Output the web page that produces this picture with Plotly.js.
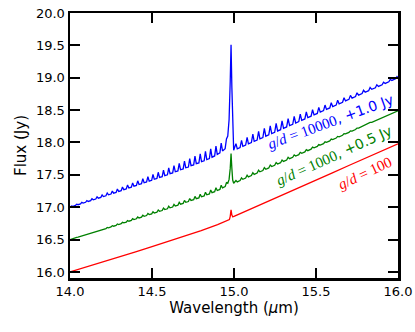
<!DOCTYPE html>
<html>
<head>
<meta charset="utf-8">
<script src="https://cdn.plot.ly/plotly-3.0.1.min.js"></script>
<style>
  html, body { margin: 0; padding: 0; background: #fff; }
  #fluxChart { width: 415px; height: 332px; }
</style>
</head>
<body>
<div id="fluxChart"></div>
<script>
// wavelength grid (micron) shared by the g/d=10000 and g/d=1000 spectra
const wavelength = [
  14.000,
  14.010,14.018,14.033, 14.041,14.049,14.064, 14.072,14.080,14.095, 14.103,14.111,14.126,
  14.134,14.142,14.157, 14.165,14.173,14.188, 14.196,14.204,14.219, 14.227,14.235,14.250,
  14.258,14.266,14.281, 14.289,14.297,14.312, 14.320,14.328,14.343, 14.351,14.359,14.374,
  14.382,14.390,14.405, 14.413,14.421,14.436, 14.444,14.452,14.467, 14.475,14.483,14.498,
  14.506,14.514,14.530, 14.538,14.546,14.562, 14.570,14.578,14.594, 14.602,14.610,14.626,
  14.634,14.642,14.658, 14.666,14.674,14.690, 14.698,14.706,14.722, 14.730,14.738,14.754,
  14.762,14.770,14.786, 14.794,14.802,14.818, 14.826,14.834,14.850, 14.858,14.866,14.882,
  14.890,14.898,14.914, 14.922,14.930,14.946,
  14.954,14.962,14.970,14.977,14.982,14.987,14.992,14.998,
  15.012,15.020,15.037, 15.046,15.054,15.071, 15.080,15.088,15.106, 15.115,15.123,15.141,
  15.150,15.158,15.176, 15.185,15.194,15.212, 15.221,15.230,15.248, 15.257,15.266,15.284,
  15.293,15.302,15.321, 15.330,15.339,15.358, 15.367,15.376,15.395, 15.404,15.413,15.432,
  15.441,15.450,15.470, 15.479,15.488,15.508, 15.517,15.526,15.546, 15.555,15.564,15.584,
  15.593,15.602,15.623, 15.632,15.641,15.662, 15.671,15.680,15.701, 15.710,15.720,15.741,
  15.750,15.760,15.781, 15.790,15.800,15.821, 15.830,15.840,15.862, 15.871,15.881,15.903,
  15.912,15.922,15.944, 15.953,15.963,15.985,
  15.994,16.000
];

// g/d=10000 spectrum, already offset by +1.0 Jy
const flux10000 = [
  17.000,
  17.020,17.015,17.027, 17.047,17.039,17.051, 17.075,17.064,17.076, 17.103,17.089,17.101,
  17.132,17.115,17.127, 17.161,17.140,17.152, 17.189,17.165,17.177, 17.220,17.192,17.204,
  17.250,17.217,17.229, 17.281,17.244,17.256, 17.313,17.271,17.283, 17.345,17.298,17.310,
  17.376,17.325,17.337, 17.408,17.351,17.363, 17.441,17.378,17.390, 17.473,17.404,17.416,
  17.507,17.432,17.444, 17.540,17.460,17.472, 17.574,17.489,17.501, 17.607,17.518,17.530,
  17.642,17.548,17.560, 17.678,17.579,17.591, 17.713,17.609,17.621, 17.751,17.641,17.653,
  17.788,17.672,17.684, 17.826,17.703,17.717, 17.863,17.737,17.752, 17.901,17.773,17.792,
  17.945,17.815,17.840, 17.992,17.870,17.905,
  18.054,18.100,18.350,18.950,19.510,18.850,18.200,17.880,
  17.983,17.902,17.921, 18.032,17.941,17.960, 18.080,17.979,17.999, 18.129,18.018,18.038,
  18.173,18.057,18.077, 18.217,18.097,18.117, 18.258,18.138,18.158, 18.296,18.178,18.198,
  18.333,18.218,18.240, 18.370,18.260,18.281, 18.404,18.301,18.322, 18.437,18.343,18.364,
  18.471,18.384,18.406, 18.506,18.427,18.449, 18.542,18.469,18.492, 18.578,18.512,18.534,
  18.614,18.554,18.578, 18.652,18.598,18.621, 18.690,18.642,18.666, 18.728,18.686,18.710,
  18.768,18.731,18.755, 18.808,18.776,18.800, 18.849,18.821,18.846, 18.891,18.867,18.892,
  18.932,18.912,18.937, 18.975,18.958,18.983,
  19.018,19.000
];

// g/d=1000 spectrum, already offset by +0.5 Jy
const flux1000 = [
  16.500,
  16.511,16.514,16.526, 16.536,16.538,16.550, 16.560,16.561,16.573, 16.585,16.585,16.597,
  16.611,16.610,16.622, 16.635,16.633,16.645, 16.661,16.657,16.669, 16.688,16.683,16.695,
  16.714,16.707,16.719, 16.741,16.733,16.745, 16.768,16.758,16.770, 16.795,16.784,16.796,
  16.823,16.810,16.822, 16.849,16.834,16.846, 16.876,16.860,16.872, 16.904,16.886,16.898,
  16.930,16.911,16.923, 16.958,16.937,16.949, 16.986,16.964,16.976, 17.015,16.991,17.003,
  17.044,17.019,17.031, 17.075,17.048,17.060, 17.105,17.076,17.088, 17.135,17.105,17.117,
  17.167,17.133,17.145, 17.199,17.161,17.174, 17.232,17.192,17.206, 17.266,17.225,17.240,
  17.300,17.258,17.275, 17.339,17.298,17.318,
  17.379,17.370,17.430,17.600,17.830,17.600,17.420,17.370,
  17.413,17.392,17.411, 17.454,17.431,17.450, 17.494,17.469,17.489, 17.534,17.508,17.528,
  17.573,17.547,17.567, 17.612,17.587,17.607, 17.652,17.628,17.648, 17.691,17.668,17.688,
  17.730,17.708,17.730, 17.770,17.750,17.771, 17.809,17.791,17.812, 17.848,17.833,17.854,
  17.888,17.874,17.896, 17.928,17.917,17.939, 17.969,17.959,17.982, 18.011,18.002,18.024,
  18.052,18.044,18.068, 18.094,18.088,18.111, 18.137,18.132,18.156, 18.179,18.176,18.200,
  18.223,18.221,18.245, 18.267,18.266,18.290, 18.311,18.311,18.336, 18.356,18.357,18.382,
  18.400,18.402,18.427, 18.445,18.448,18.473,
  18.491,18.490
];

// g/d=100 spectrum (no offset), nearly smooth
const wavelength100 = [14.0, 14.1, 14.2, 14.3, 14.4, 14.5, 14.6, 14.7, 14.8, 14.9, 14.95,
  14.972, 14.977, 14.982, 14.987, 14.993, 15.0, 15.1, 15.2, 15.3, 15.4, 15.5, 15.6, 15.7,
  15.8, 15.9, 16.0];
const flux100 = [16.0, 16.075, 16.15, 16.23, 16.31, 16.39, 16.47, 16.555, 16.64, 16.73, 16.78,
  16.81, 16.86, 16.96, 16.88, 16.85, 16.86, 16.97, 17.08, 17.19, 17.30, 17.42, 17.53, 17.645,
  17.76, 17.87, 17.98];

// labels: serif g/d part + sans offset part
const ratioText = ["<i>g</i>/<i>d</i> = 10000", "<i>g</i>/<i>d</i> = 1000", "<i>g</i>/<i>d</i> = 100"];
const offsetText = [", +1.0 Jy", ", +0.5 Jy", ""];
const labelX = [15.59, 15.61, 15.80];
const labelY = [18.32, 17.80, 17.53];
const labelAngle = [20, 24, 25];
const colors = ["#0000ff", "#008000", "#ff0000"];

// rough text widths (px) used to place the two halves side by side
const ratioWidth = [72, 65, 57];
const offsetWidth = [60, 60, 0];

const annotations = [];
labelX.forEach((x, i) => {
  const a = labelAngle[i] * Math.PI / 180;
  const dRatio = -offsetWidth[i] / 2;
  const dOffset = ratioWidth[i] / 2;
  annotations.push({
    x: x, y: labelY[i], xref: "x", yref: "y",
    text: ratioText[i], showarrow: false, textangle: -labelAngle[i],
    xshift: dRatio * Math.cos(a), yshift: dRatio * Math.sin(a),
    font: { family: "Liberation Serif", size: 15, color: colors[i] },
  });
  if (offsetText[i]) {
    annotations.push({
      x: x, y: labelY[i], xref: "x", yref: "y",
      text: offsetText[i], showarrow: false, textangle: -labelAngle[i],
      xshift: dOffset * Math.cos(a), yshift: dOffset * Math.sin(a),
      font: { family: "DejaVu Sans", size: 14, color: colors[i] },
    });
  }
});

const trace10000 = {
  x: wavelength,
  y: flux10000,
  type: "scatter",
  mode: "lines",
  line: { color: colors[0], width: 1.3 },
};

const trace1000 = {
  x: wavelength,
  y: flux1000,
  type: "scatter",
  mode: "lines",
  line: { color: colors[1], width: 1.3 },
};

const trace100 = {
  x: wavelength100,
  y: flux100,
  type: "scatter",
  mode: "lines",
  line: { color: colors[2], width: 1.3 },
};

const axisStyle = {
  showline: true,
  linecolor: "black",
  linewidth: 2.5,
  mirror: "ticks",
  ticks: "inside",
  ticklen: 10,
  tickwidth: 2,
  tickcolor: "black",
  showgrid: false,
  zeroline: false,
  tickformat: ".1f",
  dtick: 0.5,
  tickfont: { family: "DejaVu Sans", size: 13, color: "black" },
};

const layout = {
  width: 415,
  height: 332,
  margin: { l: 70, r: 17, t: 13, b: 54 },
  paper_bgcolor: "white",
  plot_bgcolor: "white",
  showlegend: false,
  font: { family: "DejaVu Sans", color: "black" },
  xaxis: Object.assign({}, axisStyle, {
    range: [14, 16],
    tick0: 14,
    title: { text: "Wavelength (<i>μ</i>m)", font: { size: 15 }, standoff: 5 },
  }),
  yaxis: Object.assign({}, axisStyle, {
    range: [15.907, 20.0],
    tick0: 16,
    title: { text: "Flux (Jy)", font: { size: 15 }, standoff: 6 },
  }),
  annotations: annotations,
};

Plotly.newPlot("fluxChart", [trace10000, trace1000, trace100], layout, { staticPlot: true });
</script>
</body>
</html>
